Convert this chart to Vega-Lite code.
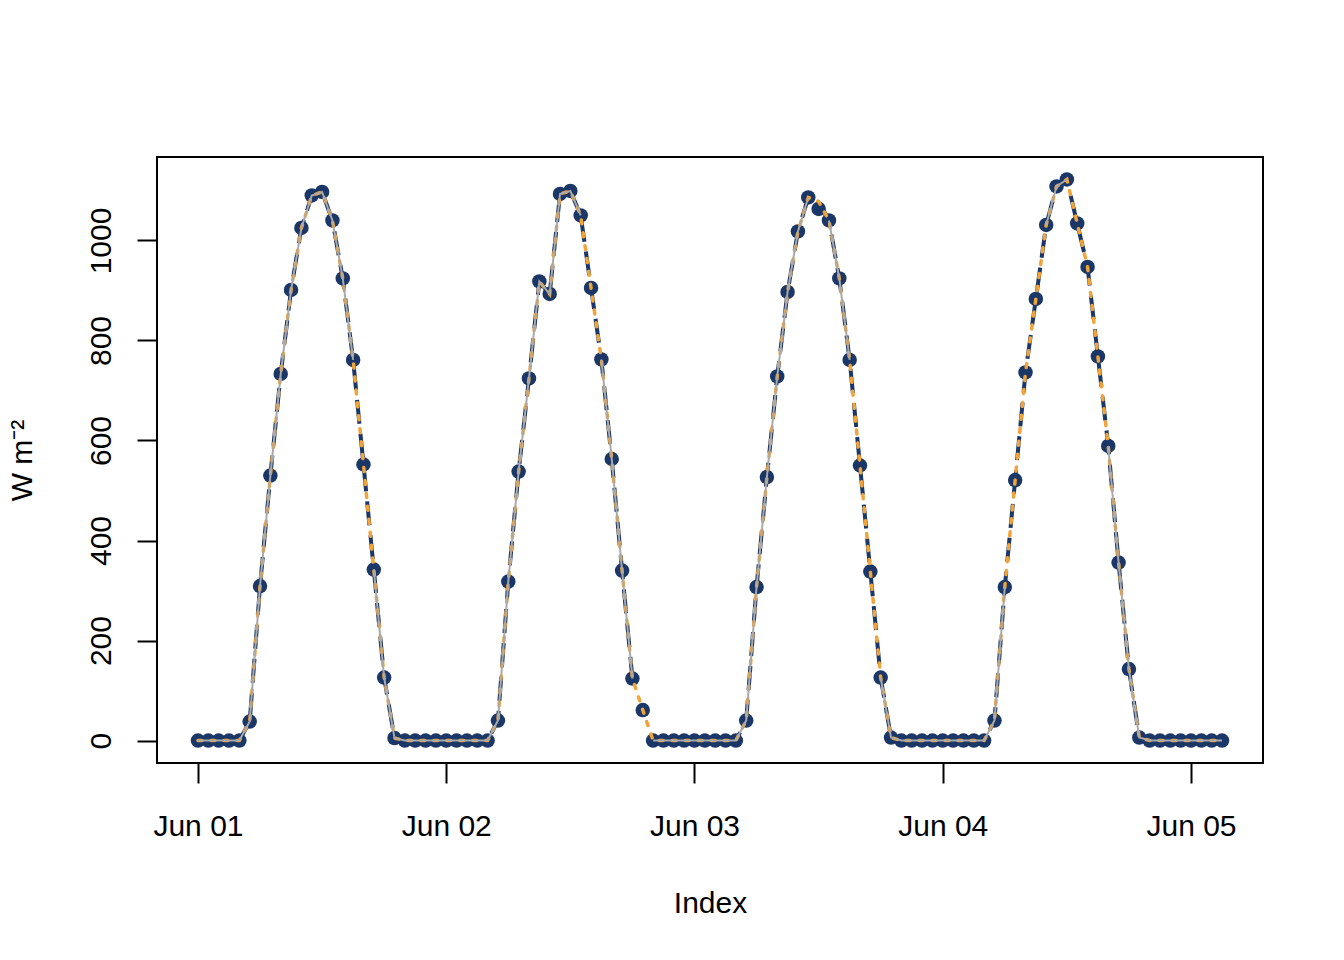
{
  "$schema": "https://vega.github.io/schema/vega-lite/v6.json",
  "width": 1106,
  "height": 606,
  "autosize": {"type": "none"},
  "padding": {"left": 157, "top": 157, "right": 81, "bottom": 197},
  "background": "white",
  "config": {
    "font": "Liberation Sans",
    "view": {"stroke": "black", "strokeWidth": 2},
    "axis": {
      "labelFont": "Liberation Sans",
      "titleFont": "Liberation Sans",
      "labelFontSize": 30,
      "titleFontSize": 30,
      "labelColor": "black",
      "titleColor": "black",
      "titleFontWeight": "normal",
      "tickColor": "black",
      "tickWidth": 2,
      "tickSize": 20,
      "domain": false,
      "grid": false,
      "labelOverlap": false,
      "labelFlush": false
    },
    "axisX": {
      "labelAlign": "center",
      "labelBaseline": "alphabetic",
      "labelPadding": 52,
      "titleBaseline": "alphabetic",
      "titleY": 149
    },
    "axisY": {
      "labelAngle": -90,
      "labelAlign": "center",
      "labelBaseline": "alphabetic",
      "labelPadding": 27,
      "titleAngle": -90,
      "titleAlign": "center",
      "titleBaseline": "alphabetic",
      "titleX": -126,
      "titleY": 303
    }
  },
  "data": {
    "values": [
      {"time": "2020-06-01T00:00:00Z", "obs": 0, "fillA": 0, "fillB": 0, "gapped": 0},
      {"time": "2020-06-01T01:00:00Z", "obs": 0, "fillA": 0, "fillB": 0, "gapped": 0},
      {"time": "2020-06-01T02:00:00Z", "obs": 0, "fillA": 0, "fillB": 0, "gapped": 0},
      {"time": "2020-06-01T03:00:00Z", "obs": 0, "fillA": 0, "fillB": 0, "gapped": 0},
      {"time": "2020-06-01T04:00:00Z", "obs": 0, "fillA": 0, "fillB": 0, "gapped": 0},
      {"time": "2020-06-01T05:00:00Z", "obs": 38, "fillA": 38, "fillB": 38, "gapped": 38},
      {"time": "2020-06-01T06:00:00Z", "obs": 309, "fillA": 309, "fillB": 309, "gapped": 309},
      {"time": "2020-06-01T07:00:00Z", "obs": 530, "fillA": 530, "fillB": 530, "gapped": 530},
      {"time": "2020-06-01T08:00:00Z", "obs": 733, "fillA": 733, "fillB": 733, "gapped": 733},
      {"time": "2020-06-01T09:00:00Z", "obs": 901, "fillA": 901, "fillB": 901, "gapped": 901},
      {"time": "2020-06-01T10:00:00Z", "obs": 1025, "fillA": 1025, "fillB": 1025, "gapped": 1025},
      {"time": "2020-06-01T11:00:00Z", "obs": 1090, "fillA": 1090, "fillB": 1090, "gapped": 1090},
      {"time": "2020-06-01T12:00:00Z", "obs": 1097, "fillA": 1097, "fillB": 1097, "gapped": 1097},
      {"time": "2020-06-01T13:00:00Z", "obs": 1040, "fillA": 1040, "fillB": 1040, "gapped": 1040},
      {"time": "2020-06-01T14:00:00Z", "obs": 924, "fillA": 924, "fillB": 924, "gapped": 924},
      {"time": "2020-06-01T15:00:00Z", "obs": 761, "fillA": 761, "fillB": 761, "gapped": 761},
      {"time": "2020-06-01T16:00:00Z", "obs": 552, "fillA": 552, "fillB": 552, "gapped": null},
      {"time": "2020-06-01T17:00:00Z", "obs": 342, "fillA": 342, "fillB": 342, "gapped": 342},
      {"time": "2020-06-01T18:00:00Z", "obs": 126, "fillA": 126, "fillB": 126, "gapped": 126},
      {"time": "2020-06-01T19:00:00Z", "obs": 5, "fillA": 5, "fillB": 5, "gapped": 5},
      {"time": "2020-06-01T20:00:00Z", "obs": 0, "fillA": 0, "fillB": 0, "gapped": 0},
      {"time": "2020-06-01T21:00:00Z", "obs": 0, "fillA": 0, "fillB": 0, "gapped": 0},
      {"time": "2020-06-01T22:00:00Z", "obs": 0, "fillA": 0, "fillB": 0, "gapped": 0},
      {"time": "2020-06-01T23:00:00Z", "obs": 0, "fillA": 0, "fillB": 0, "gapped": 0},
      {"time": "2020-06-02T00:00:00Z", "obs": 0, "fillA": 0, "fillB": 0, "gapped": 0},
      {"time": "2020-06-02T01:00:00Z", "obs": 0, "fillA": 0, "fillB": 0, "gapped": 0},
      {"time": "2020-06-02T02:00:00Z", "obs": 0, "fillA": 0, "fillB": 0, "gapped": 0},
      {"time": "2020-06-02T03:00:00Z", "obs": 0, "fillA": 0, "fillB": 0, "gapped": 0},
      {"time": "2020-06-02T04:00:00Z", "obs": 0, "fillA": 0, "fillB": 0, "gapped": 0},
      {"time": "2020-06-02T05:00:00Z", "obs": 40, "fillA": 40, "fillB": 40, "gapped": 40},
      {"time": "2020-06-02T06:00:00Z", "obs": 318, "fillA": 318, "fillB": 318, "gapped": 318},
      {"time": "2020-06-02T07:00:00Z", "obs": 538, "fillA": 538, "fillB": 538, "gapped": 538},
      {"time": "2020-06-02T08:00:00Z", "obs": 724, "fillA": 724, "fillB": 724, "gapped": 724},
      {"time": "2020-06-02T09:00:00Z", "obs": 918, "fillA": 918, "fillB": 918, "gapped": 918},
      {"time": "2020-06-02T10:00:00Z", "obs": 893, "fillA": 893, "fillB": 893, "gapped": 893},
      {"time": "2020-06-02T11:00:00Z", "obs": 1093, "fillA": 1093, "fillB": 1093, "gapped": 1093},
      {"time": "2020-06-02T12:00:00Z", "obs": 1099, "fillA": 1099, "fillB": 1099, "gapped": 1099},
      {"time": "2020-06-02T13:00:00Z", "obs": 1050, "fillA": 1050, "fillB": 1050, "gapped": 1050},
      {"time": "2020-06-02T14:00:00Z", "obs": 905, "fillA": 905, "fillB": 905, "gapped": null},
      {"time": "2020-06-02T15:00:00Z", "obs": 762, "fillA": 762, "fillB": 762, "gapped": 762},
      {"time": "2020-06-02T16:00:00Z", "obs": 563, "fillA": 563, "fillB": 563, "gapped": 563},
      {"time": "2020-06-02T17:00:00Z", "obs": 340, "fillA": 340, "fillB": 340, "gapped": 340},
      {"time": "2020-06-02T18:00:00Z", "obs": 124, "fillA": 124, "fillB": 124, "gapped": 124},
      {"time": "2020-06-02T19:00:00Z", "obs": 61, "fillA": null, "fillB": 61, "gapped": null},
      {"time": "2020-06-02T20:00:00Z", "obs": 0, "fillA": 0, "fillB": 0, "gapped": 0},
      {"time": "2020-06-02T21:00:00Z", "obs": 0, "fillA": 0, "fillB": 0, "gapped": 0},
      {"time": "2020-06-02T22:00:00Z", "obs": 0, "fillA": 0, "fillB": 0, "gapped": 0},
      {"time": "2020-06-02T23:00:00Z", "obs": 0, "fillA": 0, "fillB": 0, "gapped": 0},
      {"time": "2020-06-03T00:00:00Z", "obs": 0, "fillA": 0, "fillB": 0, "gapped": 0},
      {"time": "2020-06-03T01:00:00Z", "obs": 0, "fillA": 0, "fillB": 0, "gapped": 0},
      {"time": "2020-06-03T02:00:00Z", "obs": 0, "fillA": 0, "fillB": 0, "gapped": 0},
      {"time": "2020-06-03T03:00:00Z", "obs": 0, "fillA": 0, "fillB": 0, "gapped": 0},
      {"time": "2020-06-03T04:00:00Z", "obs": 0, "fillA": 0, "fillB": 0, "gapped": 0},
      {"time": "2020-06-03T05:00:00Z", "obs": 40, "fillA": 40, "fillB": 40, "gapped": 40},
      {"time": "2020-06-03T06:00:00Z", "obs": 307, "fillA": 307, "fillB": 307, "gapped": 307},
      {"time": "2020-06-03T07:00:00Z", "obs": 527, "fillA": 527, "fillB": 527, "gapped": 527},
      {"time": "2020-06-03T08:00:00Z", "obs": 728, "fillA": 728, "fillB": 728, "gapped": 728},
      {"time": "2020-06-03T09:00:00Z", "obs": 897, "fillA": 897, "fillB": 897, "gapped": 897},
      {"time": "2020-06-03T10:00:00Z", "obs": 1018, "fillA": 1018, "fillB": 1018, "gapped": 1018},
      {"time": "2020-06-03T11:00:00Z", "obs": 1086, "fillA": 1086, "fillB": 1086, "gapped": 1086},
      {"time": "2020-06-03T12:00:00Z", "obs": 1063, "fillA": 1078, "fillB": 1078, "gapped": null},
      {"time": "2020-06-03T13:00:00Z", "obs": 1040, "fillA": 1040, "fillB": 1040, "gapped": 1040},
      {"time": "2020-06-03T14:00:00Z", "obs": 924, "fillA": 924, "fillB": 924, "gapped": 924},
      {"time": "2020-06-03T15:00:00Z", "obs": 761, "fillA": 761, "fillB": 761, "gapped": 761},
      {"time": "2020-06-03T16:00:00Z", "obs": 550, "fillA": 550, "fillB": 550, "gapped": null},
      {"time": "2020-06-03T17:00:00Z", "obs": 338, "fillA": 338, "fillB": 338, "gapped": null},
      {"time": "2020-06-03T18:00:00Z", "obs": 126, "fillA": 126, "fillB": 126, "gapped": 126},
      {"time": "2020-06-03T19:00:00Z", "obs": 6, "fillA": 6, "fillB": 6, "gapped": 6},
      {"time": "2020-06-03T20:00:00Z", "obs": 0, "fillA": 0, "fillB": 0, "gapped": 0},
      {"time": "2020-06-03T21:00:00Z", "obs": 0, "fillA": 0, "fillB": 0, "gapped": 0},
      {"time": "2020-06-03T22:00:00Z", "obs": 0, "fillA": 0, "fillB": 0, "gapped": 0},
      {"time": "2020-06-03T23:00:00Z", "obs": 0, "fillA": 0, "fillB": 0, "gapped": 0},
      {"time": "2020-06-04T00:00:00Z", "obs": 0, "fillA": 0, "fillB": 0, "gapped": 0},
      {"time": "2020-06-04T01:00:00Z", "obs": 0, "fillA": 0, "fillB": 0, "gapped": 0},
      {"time": "2020-06-04T02:00:00Z", "obs": 0, "fillA": 0, "fillB": 0, "gapped": 0},
      {"time": "2020-06-04T03:00:00Z", "obs": 0, "fillA": 0, "fillB": 0, "gapped": 0},
      {"time": "2020-06-04T04:00:00Z", "obs": 0, "fillA": 0, "fillB": 0, "gapped": 0},
      {"time": "2020-06-04T05:00:00Z", "obs": 40, "fillA": 40, "fillB": 40, "gapped": 40},
      {"time": "2020-06-04T06:00:00Z", "obs": 307, "fillA": 307, "fillB": 307, "gapped": 307},
      {"time": "2020-06-04T07:00:00Z", "obs": 521, "fillA": 521, "fillB": 521, "gapped": null},
      {"time": "2020-06-04T08:00:00Z", "obs": 736, "fillA": 736, "fillB": 736, "gapped": null},
      {"time": "2020-06-04T09:00:00Z", "obs": 883, "fillA": 883, "fillB": 883, "gapped": null},
      {"time": "2020-06-04T10:00:00Z", "obs": 1031, "fillA": 1031, "fillB": 1031, "gapped": 1031},
      {"time": "2020-06-04T11:00:00Z", "obs": 1108, "fillA": 1108, "fillB": 1108, "gapped": 1108},
      {"time": "2020-06-04T12:00:00Z", "obs": 1122, "fillA": 1122, "fillB": 1122, "gapped": 1122},
      {"time": "2020-06-04T13:00:00Z", "obs": 1034, "fillA": 1034, "fillB": 1034, "gapped": null},
      {"time": "2020-06-04T14:00:00Z", "obs": 947, "fillA": 947, "fillB": 947, "gapped": null},
      {"time": "2020-06-04T15:00:00Z", "obs": 768, "fillA": 768, "fillB": 768, "gapped": null},
      {"time": "2020-06-04T16:00:00Z", "obs": 589, "fillA": 589, "fillB": 589, "gapped": 589},
      {"time": "2020-06-04T17:00:00Z", "obs": 356, "fillA": 356, "fillB": 356, "gapped": 356},
      {"time": "2020-06-04T18:00:00Z", "obs": 143, "fillA": 143, "fillB": 143, "gapped": 143},
      {"time": "2020-06-04T19:00:00Z", "obs": 6, "fillA": 6, "fillB": 6, "gapped": 6},
      {"time": "2020-06-04T20:00:00Z", "obs": 0, "fillA": 0, "fillB": 0, "gapped": 0},
      {"time": "2020-06-04T21:00:00Z", "obs": 0, "fillA": 0, "fillB": 0, "gapped": 0},
      {"time": "2020-06-04T22:00:00Z", "obs": 0, "fillA": 0, "fillB": 0, "gapped": 0},
      {"time": "2020-06-04T23:00:00Z", "obs": 0, "fillA": 0, "fillB": 0, "gapped": 0},
      {"time": "2020-06-05T00:00:00Z", "obs": 0, "fillA": 0, "fillB": 0, "gapped": 0},
      {"time": "2020-06-05T01:00:00Z", "obs": 0, "fillA": 0, "fillB": 0, "gapped": 0},
      {"time": "2020-06-05T02:00:00Z", "obs": 0, "fillA": 0, "fillB": 0, "gapped": 0},
      {"time": "2020-06-05T03:00:00Z", "obs": 0, "fillA": 0, "fillB": 0, "gapped": 0}
    ]
  },
  "encoding": {
    "x": {
      "field": "time",
      "type": "temporal",
      "title": "Index",
      "scale": {"type": "utc", "domain": [1590955344000, 1591340256000], "nice": false},
      "axis": {
        "values": [1590969600000, 1591056000000, 1591142400000, 1591228800000, 1591315200000],
        "labelExpr": "utcFormat(datum.value, '%b %d')"
      }
    }
  },
  "layer": [
    {
      "mark": {"type": "point", "shape": "circle", "filled": true, "size": 210, "color": "#1a3767", "opacity": 1},
      "encoding": {
        "y": {
          "field": "obs",
          "type": "quantitative",
          "title": "W m⁻²",
          "scale": {"domain": [-44.9, 1166.9], "nice": false, "zero": false},
          "axis": {"values": [0, 200, 400, 600, 800, 1000], "format": "d"}
        }
      }
    },
    {
      "mark": {"type": "line", "color": "#1a3767", "strokeWidth": 4, "strokeDash": [24, 10], "invalid": "break-paths-show-domains"},
      "encoding": {"y": {"field": "fillA", "type": "quantitative", "title": "W m⁻²"}}
    },
    {
      "mark": {"type": "line", "color": "#f2a33a", "strokeWidth": 3.5, "strokeDash": [4, 9], "strokeCap": "round", "invalid": "break-paths-show-domains"},
      "encoding": {"y": {"field": "fillB", "type": "quantitative", "title": "W m⁻²"}}
    },
    {
      "mark": {"type": "line", "color": "#a9a9a9", "strokeWidth": 2, "invalid": "break-paths-show-domains"},
      "encoding": {"y": {"field": "gapped", "type": "quantitative", "title": "W m⁻²"}}
    }
  ]
}
